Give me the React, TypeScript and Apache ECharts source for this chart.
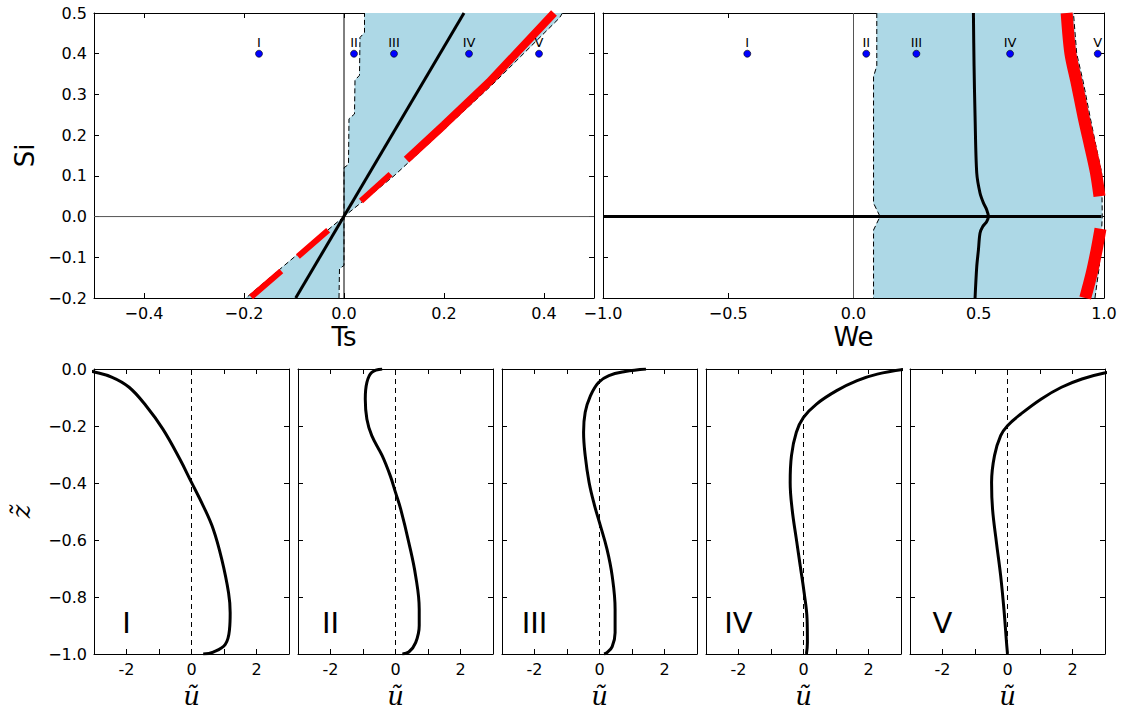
import React, { useEffect, useRef } from "react";
import * as echarts from "echarts";

// ---------- Top-left panel (Ts vs Si) ----------
const tsTicks = [-0.4, -0.2, 0, 0.2, 0.4];
// light-blue region, Si > 0 (left staircase bottom->top, then right edge top->bottom)
const tlUpLeftTs = [0, 0, 0.009, 0.01, 0.021, 0.022, 0.031, 0.032, 0.041, 0.041];
const tlUpLeftSi = [0, 0.12, 0.128, 0.24, 0.252, 0.335, 0.347, 0.44, 0.452, 0.5];
const tlUpRightTs = [0.437, 0.431, 0.3, 0.171, 0.1, 0.04, 0];
const tlUpRightSi = [0.5, 0.488, 0.328, 0.181, 0.1, 0.04, 0];
// light-blue region, Si < 0
const tlLowLeftTs = [0, -0.05, -0.1, -0.15, -0.196];
const tlLowLeftSi = [0, -0.051, -0.1, -0.152, -0.2];
const tlLowRightTs = [-0.01, -0.009, 0, 0];
const tlLowRightSi = [-0.2, -0.128, -0.12, 0];
// red curve
const redLowTs = [0, -0.188];
const redLowSi = [0, -0.2];
const redMidTs = [0, 0.125];
const redMidSi = [0, 0.14];
const redUpTs = [0.125, 0.2, 0.29, 0.42];
const redUpSi = [0.14, 0.225, 0.33, 0.5];
// black straight line
const blackTs = [-0.0966, 0.24];
const blackSi = [-0.2, 0.5];

// ---------- Top-right panel (We vs Si) ----------
const trLeftWe = [0.093, 0.093, 0.08, 0.08, 0.106, 0.08, 0.08];
const trLeftSi = [0.5, 0.37, 0.344, 0.033, 0.0, -0.033, -0.2];
const trRightWe = [0.964, 0.981, 0.99, 0.993, 0.991, 0.971, 0.944, 0.918, 0.891, 0.878];
const trRightSi = [-0.2, -0.123, -0.041, 0.0, 0.107, 0.164, 0.246, 0.328, 0.4, 0.5];
const trRedUpWe = [0.851, 0.866, 0.891, 0.918, 0.948, 0.968, 0.982];
const trRedUpSi = [0.5, 0.4, 0.328, 0.246, 0.164, 0.107, 0.05];
const trRedLowWe = [0.986, 0.971, 0.951, 0.925];
const trRedLowSi = [-0.03, -0.081, -0.139, -0.2];
const trCurveWe = [0.4787, 0.4813, 0.4853, 0.492, 0.505, 0.519, 0.532, 0.5386, 0.532, 0.516, 0.505, 0.4987, 0.492, 0.4853];
const trCurveSi = [0.5, 0.369, 0.246, 0.107, 0.058, 0.033, 0.0164, 0, -0.012, -0.0246, -0.041, -0.082, -0.123, -0.2];

// ---------- marked points ----------
const dotLabels = ["I", "II", "III", "IV", "V"];
const dotTs = [-0.17, 0.02, 0.1, 0.25, 0.39];
const dotWe = [-0.424, 0.051, 0.251, 0.625, 0.975];
const dotSi = 0.4;

// ---------- bottom profiles (u vs z) ----------
const uI = [-3.4, -3.04, -2.44, -1.92, -1.4, -0.88, -0.36, 0, 0.36, 0.67, 0.93, 1.14, 1.19, 1.17, 1.04, 0.67, 0.36];
const zI = [0, -0.009, -0.029, -0.064, -0.129, -0.211, -0.316, -0.398, -0.48, -0.562, -0.667, -0.785, -0.855, -0.913, -0.966, -0.993, -1.0];
const uII = [-0.41, -0.73, -0.88, -0.93, -0.88, -0.73, -0.41, -0.16, 0, 0.16, 0.41, 0.62, 0.73, 0.73, 0.62, 0.41, 0.21];
const zII = [0, -0.012, -0.047, -0.105, -0.176, -0.234, -0.304, -0.375, -0.433, -0.492, -0.609, -0.726, -0.843, -0.9, -0.96, -0.993, -1.0];
const uIII = [1.43, 0.79, 0.29, -0.03, -0.28, -0.44, -0.49, -0.44, -0.32, -0.15, 0, 0.23, 0.39, 0.48, 0.48, 0.39, 0.23, 0.14];
const zIII = [0, -0.009, -0.023, -0.047, -0.094, -0.152, -0.222, -0.304, -0.398, -0.48, -0.539, -0.632, -0.726, -0.843, -0.925, -0.974, -0.995, -1.0];
const uIV = [3.2, 2.27, 1.65, 1.02, 0.4, 0, -0.22, -0.37, -0.41, -0.35, -0.22, -0.1, 0.02, 0.11, 0.12, 0.09];
const zIV = [0, -0.018, -0.041, -0.076, -0.123, -0.17, -0.222, -0.304, -0.398, -0.492, -0.597, -0.691, -0.785, -0.878, -0.96, -1.0];
const uV = [3.6, 2.98, 2.29, 1.66, 1.04, 0.41, 0, -0.21, -0.4, -0.49, -0.46, -0.34, -0.21, -0.11, -0.03, 0];
const zV = [-0.004, -0.014, -0.035, -0.064, -0.105, -0.158, -0.199, -0.234, -0.304, -0.398, -0.492, -0.609, -0.726, -0.843, -0.96, -1.0];
const profilesU = [uI, uII, uIII, uIV, uV];
const profilesZ = [zI, zII, zIII, zIV, zV];
const profileNames = ["I", "II", "III", "IV", "V"];
const nameU = -2;
const nameZ = -0.89;

const FONT = "DejaVu Sans";
const MINUS = "\u2212";
const fmt1 = (v: number) => (v < -1e-9 ? MINUS : "") + Math.abs(v).toFixed(1);

const pairs = (xs: number[], ys: number[]) => xs.map((x, i) => [x, ys[i]]);

function buildOption() {
  const grids: any[] = [
    { left: 94, top: 13, width: 500, height: 285 },
    { left: 603, top: 13, width: 501, height: 285 },
  ];
  [94, 298, 502, 706, 910].forEach((l) => grids.push({ left: l, top: 369, width: 195, height: 285 }));

  const axLine = { show: true, onZero: false, lineStyle: { color: "#000", width: 1 } };
  const tick = { show: true, inside: true, length: 5, lineStyle: { color: "#000", width: 1 } };
  const lbl = { fontSize: 16, color: "#000", fontFamily: FONT, margin: 7 };

  const xAxis: any[] = [];
  const yAxis: any[] = [];

  // grid 0
  xAxis.push({
    gridIndex: 0, type: "value", min: -0.5, max: 0.5, position: "bottom",
    axisLine: axLine, axisTick: { ...tick, customValues: tsTicks },
    axisLabel: { ...lbl, customValues: tsTicks, formatter: fmt1 }, splitLine: { show: false },
    name: "Ts", nameLocation: "middle", nameGap: 26,
    nameTextStyle: { fontSize: 26, fontFamily: FONT, color: "#000" },
  });
  xAxis.push({
    gridIndex: 0, type: "value", min: -0.5, max: 0.5, position: "top",
    axisLine: axLine, axisTick: { ...tick, customValues: tsTicks }, axisLabel: { show: false }, splitLine: { show: false },
  });
  yAxis.push({
    gridIndex: 0, type: "value", min: -0.2, max: 0.5, interval: 0.1, position: "left",
    axisLine: axLine, axisTick: tick, axisLabel: { ...lbl, formatter: fmt1 }, splitLine: { show: false },
    name: "Si", nameLocation: "middle", nameGap: 56,
    nameTextStyle: { fontSize: 26, fontFamily: FONT, color: "#000" },
  });
  yAxis.push({
    gridIndex: 0, type: "value", min: -0.2, max: 0.5, interval: 0.1, position: "right",
    axisLine: axLine, axisTick: tick, axisLabel: { show: false }, splitLine: { show: false },
  });
  // grid 1
  xAxis.push({
    gridIndex: 1, type: "value", min: -1, max: 1, interval: 0.5, position: "bottom",
    axisLine: axLine, axisTick: tick, axisLabel: { ...lbl, formatter: fmt1, showMinLabel: true, showMaxLabel: true },
    splitLine: { show: false },
    name: "We", nameLocation: "middle", nameGap: 26,
    nameTextStyle: { fontSize: 26, fontFamily: FONT, color: "#000" },
  });
  xAxis.push({
    gridIndex: 1, type: "value", min: -1, max: 1, interval: 0.5, position: "top",
    axisLine: axLine, axisTick: tick, axisLabel: { show: false }, splitLine: { show: false },
  });
  yAxis.push({
    gridIndex: 1, type: "value", min: -0.2, max: 0.5, interval: 0.1, position: "left",
    axisLine: axLine, axisTick: tick, axisLabel: { show: false }, splitLine: { show: false },
  });
  yAxis.push({
    gridIndex: 1, type: "value", min: -0.2, max: 0.5, interval: 0.1, position: "right",
    axisLine: axLine, axisTick: tick, axisLabel: { show: false }, splitLine: { show: false },
  });
  // bottom grids
  for (let k = 0; k < 5; k++) {
    const g = k + 2;
    xAxis.push({
      gridIndex: g, type: "value", min: -3, max: 3, interval: 1, position: "bottom",
      axisLine: axLine, axisTick: tick,
      axisLabel: {
        ...lbl, showMinLabel: true, showMaxLabel: true,
        formatter: (v: number) => (Math.round(v) % 2 === 0 && Math.abs(v) < 2.5 ? (v < 0 ? "-" : "") + Math.abs(Math.round(v)) : ""),
      },
      splitLine: { show: false },
      name: "\u0169", nameLocation: "middle", nameGap: 29,
      nameTextStyle: { fontSize: 26, fontFamily: "DejaVu Serif", fontStyle: "italic", color: "#000" },
    });
    xAxis.push({
      gridIndex: g, type: "value", min: -3, max: 3, interval: 1, position: "top",
      axisLine: axLine, axisTick: tick, axisLabel: { show: false }, splitLine: { show: false },
    });
    yAxis.push({
      gridIndex: g, type: "value", min: -1, max: 0, interval: 0.2, position: "left",
      axisLine: axLine, axisTick: tick,
      axisLabel: k === 0 ? { ...lbl, formatter: fmt1 } : { show: false },
      splitLine: { show: false },
      ...(k === 0
        ? {
            name: "z\u0303", nameLocation: "middle", nameGap: 60,
            nameTextStyle: { fontSize: 26, fontFamily: "DejaVu Serif", fontStyle: "italic", color: "#000" },
          }
        : {}),
    });
    yAxis.push({
      gridIndex: g, type: "value", min: -1, max: 0, interval: 0.2, position: "right",
      axisLine: axLine, axisTick: tick, axisLabel: { show: false }, splitLine: { show: false },
    });
  }

  const series: any[] = [];
  const polygon = (g: number, xs: number[], ys: number[], color: string) => ({
    type: "custom", xAxisIndex: 2 * g, yAxisIndex: 2 * g, clip: true, silent: true, z: 1,
    data: [[xs[0], ys[0]]],
    renderItem: (_p: any, api: any) => ({
      type: "polygon",
      shape: { points: xs.map((x, i) => api.coord([x, ys[i]])) },
      style: { fill: color, stroke: color, lineWidth: 0.5 },
    }),
  });
  const line = (g: number, xs: number[], ys: number[], ls: any, z = 2, smooth: any = false) => ({
    type: "line", xAxisIndex: 2 * g, yAxisIndex: 2 * g, data: pairs(xs, ys), symbol: "none",
    lineStyle: ls, silent: true, z, smooth, clip: true,
  });
  const dashBlack = { color: "#000", width: 1, type: [5, 3] };
  const BLUE = "#add8e6";
  const dotStyle = { color: "#0000ff", borderColor: "#000", borderWidth: 0.6, opacity: 1 };
  const dotLabel = { show: true, position: "top", distance: 1, formatter: "{b}", fontSize: 13, fontFamily: FONT, color: "#000", opacity: 1 };

  // top-left
  series.push(polygon(0, tlUpLeftTs.concat(tlUpRightTs), tlUpLeftSi.concat(tlUpRightSi), BLUE));
  series.push(polygon(0, tlLowLeftTs.concat(tlLowRightTs), tlLowLeftSi.concat(tlLowRightSi), BLUE));
  series.push(line(0, tlUpLeftTs, tlUpLeftSi, dashBlack));
  series.push(line(0, tlUpRightTs, tlUpRightSi, dashBlack));
  series.push(line(0, tlLowLeftTs, tlLowLeftSi, dashBlack));
  series.push(line(0, tlLowRightTs, tlLowRightSi, dashBlack));
  series.push(line(0, [0, 0], [-0.2, 0.5], { color: "#000", width: 1 }));
  series.push(line(0, [-0.5, 0.5], [0, 0], { color: "#555", width: 1 }));
  series.push(line(0, redLowTs, redLowSi, { color: "#ff0000", width: 6, type: [40, 22], dashOffset: 41, cap: "butt" }, 3));
  series.push(line(0, redMidTs, redMidSi, { color: "#ff0000", width: 6, type: [40, 24], dashOffset: 41, cap: "butt" }, 3));
  series.push(line(0, redUpTs, redUpSi, { color: "#ff0000", width: 8, cap: "butt" }, 3));
  series.push(line(0, blackTs, blackSi, { color: "#000", width: 3 }, 4));
  series.push({
    type: "scatter", xAxisIndex: 0, yAxisIndex: 0, symbolSize: 7, z: 5, silent: true,
    itemStyle: dotStyle, label: dotLabel,
    data: dotTs.map((x, i) => ({ name: dotLabels[i], value: [x, dotSi] })),
  });

  // top-right
  series.push(polygon(1, trLeftWe.concat(trRightWe), trLeftSi.concat(trRightSi), BLUE));
  series.push(line(1, trLeftWe, trLeftSi, dashBlack));
  series.push(line(1, trRightWe, trRightSi, dashBlack));
  series.push(line(1, [0, 0], [-0.2, 0.5], { color: "#555", width: 1 }));
  series.push(line(1, trRedUpWe, trRedUpSi, { color: "#ff0000", width: 12, cap: "butt" }, 3, 0.3));
  series.push(line(1, trRedLowWe, trRedLowSi, { color: "#ff0000", width: 12, cap: "butt" }, 3, 0.3));
  series.push(line(1, [-1, 0.99], [0, 0], { color: "#000", width: 3 }, 4));
  series.push(line(1, trCurveWe, trCurveSi, { color: "#000", width: 3 }, 4, 0.3));
  series.push({
    type: "scatter", xAxisIndex: 2, yAxisIndex: 2, symbolSize: 7, z: 5, silent: true,
    itemStyle: dotStyle, label: dotLabel,
    data: dotWe.map((x, i) => ({ name: dotLabels[i], value: [x, dotSi] })),
  });

  // bottom panels
  for (let k = 0; k < 5; k++) {
    const g = k + 2;
    series.push(line(g, [0, 0], [-1, 0], { color: "#000", width: 1, type: [5, 4] }));
    series.push(line(g, profilesU[k], profilesZ[k], { color: "#000", width: 3 }, 4, 0.4));
    series.push({
      type: "scatter", xAxisIndex: 2 * g, yAxisIndex: 2 * g, symbolSize: 0, z: 5, silent: true,
      itemStyle: { opacity: 1 },
      label: { show: true, position: "inside", formatter: "{b}", fontSize: 29, fontFamily: FONT, color: "#000", opacity: 1 },
      data: [{ name: profileNames[k], value: [nameU, nameZ] }],
    });
  }

  return {
    animation: false,
    backgroundColor: "#fff",
    textStyle: { fontFamily: FONT },
    grid: grids,
    xAxis,
    yAxis,
    series,
  };
}

export default function App() {
  const ref = useRef<HTMLDivElement>(null);
  useEffect(() => {
    const chart = echarts.init(ref.current as HTMLDivElement, null, { renderer: "svg" });
    chart.setOption(buildOption() as any);
    return () => chart.dispose();
  }, []);
  return (
    <div
      ref={ref}
      style={{ position: "fixed", left: 0, top: 0, width: 1129, height: 711, background: "#fff" }}
    />
  );
}
